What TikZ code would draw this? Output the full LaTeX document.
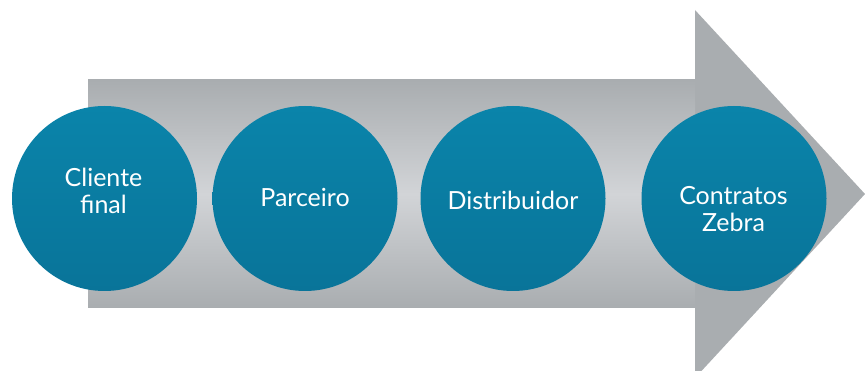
\documentclass[tikz,border=0pt]{standalone}
\usepackage{fontspec}
\setmainfont{Lato}
\usetikzlibrary{shapes.geometric}
\definecolor{arrowgray}{HTML}{A9ADB0}
\definecolor{arrowlight}{HTML}{D2D4D7}
\definecolor{tealtop}{HTML}{0A84AA}
\definecolor{tealbot}{HTML}{097499}
\tikzset{
  stage/.style={circle, minimum size=185pt, inner sep=0pt, top color=tealtop, bottom color=tealbot, draw=none},
  stagetext/.style={text=white, font=\fontsize{25}{27}\selectfont, align=center, inner sep=0pt}
}
\begin{document}
\begin{tikzpicture}[x=1pt,y=-1pt]
\useasboundingbox (0,0) rectangle (865,371);
% arrow
\fill[arrowgray] (88,80) -- (695,80) -- (695,10) -- (865,194) -- (695,378) -- (695,308) -- (88,308) -- cycle;
\shade[top color=arrowgray, bottom color=arrowgray, middle color=arrowlight] (88,80) rectangle (695,308);
% circles
\node[stage] (c1) at (104.5,198.5) {};
\node[stage] (c2) at (305,198.5) {};
\node[stage] (c3) at (513,198.5) {};
\node[stage] (c4) at (734,198.5) {};
% texts
\node[stagetext] (t1) at (103.5,191) {Cliente\\final};
\node[stagetext] (t2) at (305,197) {Parceiro};
\node[stagetext] (t3) at (513,200) {Distribuidor};
\node[stagetext] (t4) at (733.5,209) {Contratos\\Zebra};
\end{tikzpicture}
\end{document}
